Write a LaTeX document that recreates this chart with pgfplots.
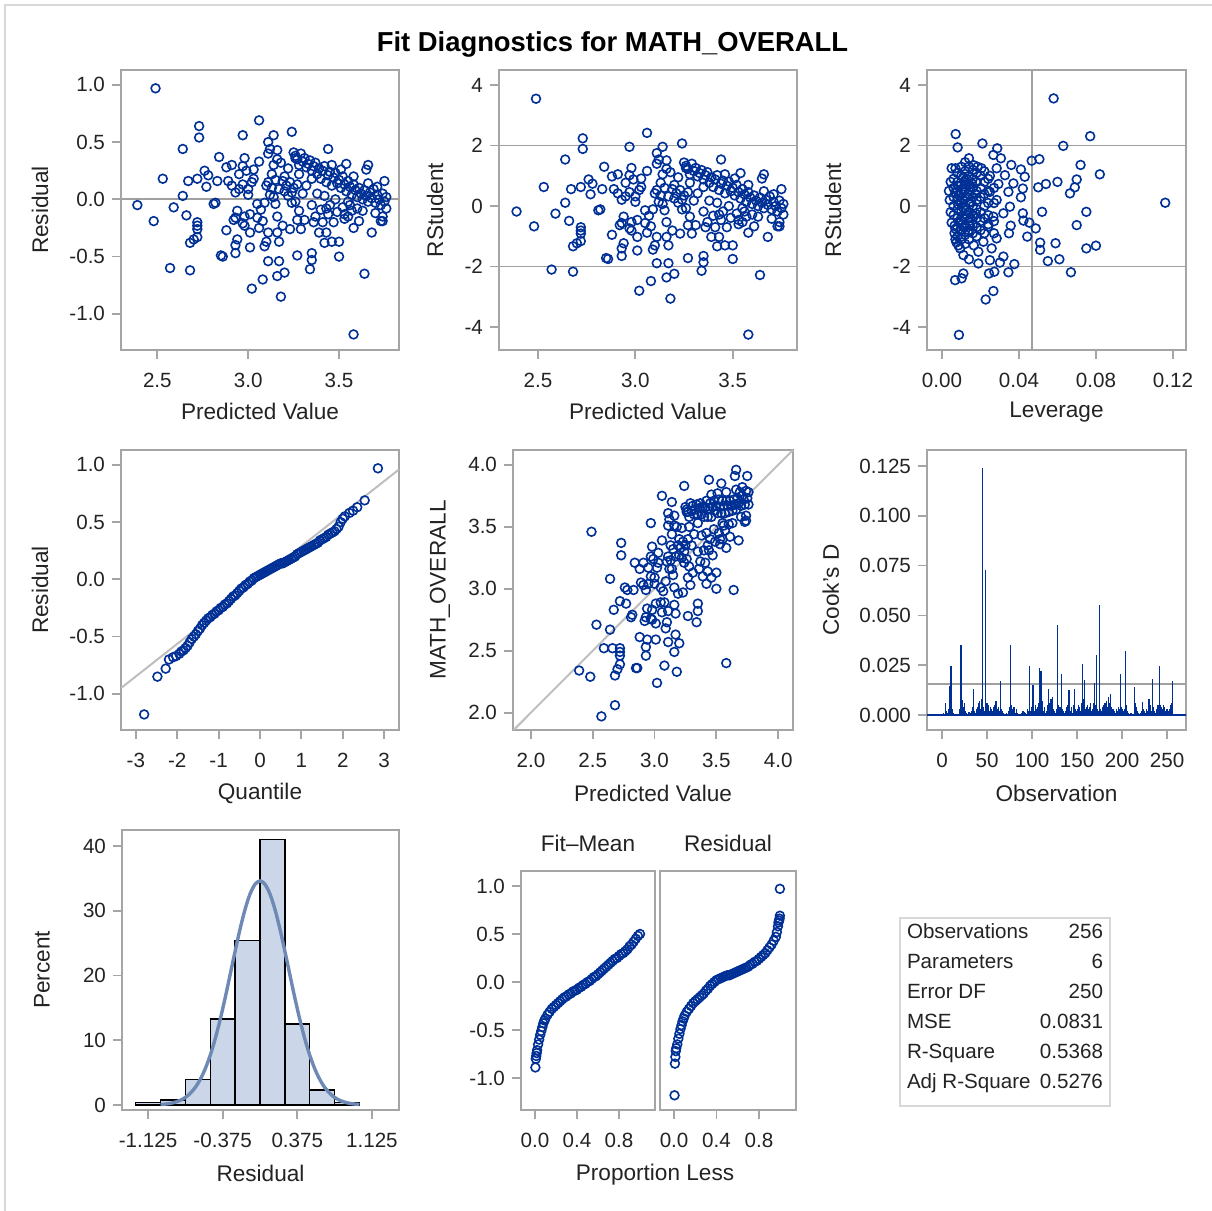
\documentclass[border=0pt]{standalone}
\usepackage{fontspec}
\setmainfont{Liberation Sans}
\usepackage{pgfplots}
\usepackage{pgfplotstable}
\pgfplotsset{compat=1.18}

\definecolor{sasblue}{RGB}{0,48,150}
\definecolor{framegray}{RGB}{165,165,165}
\definecolor{refline}{RGB}{160,160,160}
\definecolor{diagline}{RGB}{190,190,190}
\definecolor{histfill}{RGB}{203,214,232}
\definecolor{curveblue}{RGB}{110,138,180}
\definecolor{txt}{RGB}{35,35,35}
\definecolor{outer}{RGB}{215,215,215}

\pgfplotsset{
  panel/.style={
    scale only axis, anchor=south west,
    axis line style={framegray, line width=0.9pt},
    tick style={framegray, line width=0.9pt},
    major tick length=4.5pt,
    tick align=outside,
    xtick pos=bottom, ytick pos=left,
    ticklabel style={font=\fontsize{10.3}{12}\selectfont, text=txt},
    xticklabel style={yshift=-3.5pt},
    label style={font=\fontsize{11.3}{13}\selectfont, text=txt},
  },
  pts/.style={only marks, mark=o, mark size=2.2pt,
    mark options={draw=sasblue, line width=0.8pt}},
}

% predicted value, residual, rstudent, observed
\pgfplotstableread[row sep=\\]{
x r rst obs\\
2.49 0.97 3.55 3.46\\ 2.39 -0.05 -0.18 2.34\\ 2.48 -0.19 -0.67 2.29\\ 2.53 0.18 0.63 2.71\\
2.57 -0.60 -2.10 1.97\\ 2.68 -0.62 -2.17 2.06\\ 2.59 -0.07 -0.25 2.52\\ 2.64 0.44 1.54 3.08\\
2.64 0.03 0.11 2.67\\ 2.66 -0.14 -0.49 2.52\\ 2.67 0.16 0.56 2.83\\ 2.73 0.64 2.24 3.37\\
2.73 0.54 1.89 3.27\\ 2.72 0.18 0.63 2.90\\ 2.76 0.25 0.88 3.01\\ 2.77 0.11 0.39 2.88\\
2.78 0.21 0.74 2.99\\ 2.83 0.16 0.56 2.99\\ 2.72 -0.20 -0.70 2.52\\ 2.72 -0.23 -0.81 2.49\\
2.72 -0.26 -0.91 2.46\\ 2.68 -0.38 -1.33 2.30\\ 2.70 -0.35 -1.23 2.35\\ 2.72 -0.33 -1.16 2.39\\
2.81 -0.04 -0.14 2.77\\ 2.82 -0.03 -0.11 2.79\\ 2.84 0.37 1.30 3.21\\ 2.85 -0.49 -1.72 2.36\\
2.86 -0.50 -1.75 2.36\\ 2.88 -0.27 -0.95 2.61\\ 2.88 0.28 0.98 3.16\\ 2.91 0.30 1.05 3.21\\
2.89 0.16 0.56 3.05\\ 2.91 0.12 0.42 3.03\\ 2.93 -0.47 -1.65 2.46\\ 2.93 -0.16 -0.56 2.77\\
2.92 -0.18 -0.63 2.74\\ 2.94 -0.10 -0.35 2.84\\ 2.94 -0.35 -1.23 2.59\\ 2.93 -0.40 -1.40 2.53\\
2.95 0.22 0.77 3.17\\ 2.95 0.09 0.32 3.04\\ 2.97 0.56 1.96 3.53\\ 2.98 0.36 1.26 3.34\\
2.97 0.29 1.02 3.26\\ 2.99 0.25 0.88 3.24\\ 3.03 0.26 0.91 3.29\\ 2.97 0.13 0.46 3.10\\
3.00 0.09 0.32 3.09\\ 3.02 0.15 0.53 3.17\\ 3.00 0.04 0.14 3.04\\ 2.98 -0.15 -0.53 2.83\\
3.01 -0.13 -0.46 2.88\\ 2.97 -0.21 -0.74 2.76\\ 2.98 -0.23 -0.81 2.75\\ 3.01 -0.29 -1.02 2.72\\
3.01 -0.42 -1.47 2.59\\ 3.02 -0.78 -2.80 2.24\\ 3.08 -0.70 -2.48 2.38\\ 3.06 0.69 2.42 3.75\\
3.05 -0.04 -0.14 3.01\\ 3.05 -0.16 -0.56 2.89\\ 3.07 -0.09 -0.32 2.98\\ 3.08 -0.19 -0.67 2.89\\
3.06 -0.25 -0.88 2.81\\ 3.09 -0.03 -0.11 3.06\\ 3.09 -0.41 -1.44 2.68\\ 3.10 -0.37 -1.30 2.73\\
3.11 -0.54 -1.89 2.57\\ 3.17 -0.54 -1.89 2.63\\ 3.10 0.12 0.42 3.22\\ 3.11 0.15 0.53 3.26\\
3.12 0.04 0.14 3.16\\ 3.11 0.40 1.40 3.51\\ 3.12 0.44 1.54 3.56\\ 3.11 0.50 1.75 3.61\\
3.14 0.56 1.96 3.70\\ 3.16 0.43 1.51 3.59\\ 3.16 0.35 1.23 3.51\\ 3.14 0.30 1.05 3.44\\
3.13 0.22 0.77 3.35\\ 3.15 -0.04 -0.14 3.11\\ 3.14 0.02 0.07 3.16\\ 3.16 -0.29 -1.02 2.87\\
3.17 -0.37 -1.30 2.80\\ 3.16 -0.67 -2.36 2.49\\ 3.18 -0.85 -3.06 2.33\\ 3.20 -0.64 -2.24 2.56\\
3.11 -0.29 -1.02 2.82\\ 3.19 -0.23 -0.81 2.96\\ 3.24 0.59 2.07 3.83\\ 3.18 0.32 1.12 3.50\\
3.20 0.20 0.70 3.40\\ 3.21 0.12 0.42 3.33\\ 3.19 0.16 0.56 3.35\\ 3.23 0.15 0.53 3.38\\
3.24 0.06 0.21 3.30\\ 3.17 0.09 0.32 3.26\\ 3.22 0.03 0.11 3.25\\ 3.25 0.10 0.35 3.35\\
3.27 0.13 0.46 3.40\\ 3.15 0.17 0.60 3.32\\ 3.26 0.36 1.26 3.62\\ 3.27 -0.49 -1.72 2.78\\
3.28 -0.10 -0.35 3.18\\ 3.27 -0.18 -0.63 3.09\\ 3.29 -0.26 -0.91 3.03\\ 3.24 -0.03 -0.11 3.21\\
3.34 -0.61 -2.14 2.73\\ 3.35 -0.53 -1.86 2.82\\ 3.35 -0.47 -1.65 2.88\\ 3.37 -0.15 -0.53 3.22\\
3.39 -0.29 -1.02 3.10\\ 3.42 -0.38 -1.33 3.04\\ 3.43 -0.29 -1.02 3.14\\ 3.46 -0.37 -1.30 3.09\\
3.44 0.44 1.54 3.88\\ 3.50 -0.37 -1.30 3.13\\ 3.50 -0.50 -1.75 3.00\\ 3.53 -0.13 -0.46 3.40\\
3.55 -0.15 -0.53 3.40\\ 3.58 -0.25 -0.88 3.33\\ 3.61 -0.19 -0.67 3.42\\ 3.68 -0.29 -1.02 3.39\\
3.64 -0.65 -2.28 2.99\\ 3.58 -1.18 -4.25 2.40\\ 3.66 0.30 1.05 3.96\\ 3.65 0.26 0.91 3.91\\
3.75 0.16 0.56 3.91\\ 3.74 -0.19 -0.67 3.55\\ 3.74 -0.15 -0.53 3.59\\ 3.25 0.41 1.44 3.66\\
3.26 0.38 1.33 3.64\\ 3.27 0.35 1.23 3.62\\ 3.28 0.30 1.05 3.58\\ 3.29 0.40 1.40 3.69\\
3.30 0.33 1.16 3.63\\ 3.31 0.36 1.26 3.67\\ 3.32 0.28 0.98 3.60\\ 3.33 0.31 1.09 3.64\\
3.34 0.34 1.19 3.68\\ 3.35 0.25 0.88 3.60\\ 3.36 0.29 1.02 3.65\\ 3.37 0.32 1.12 3.69\\
3.38 0.22 0.77 3.60\\ 3.39 0.27 0.95 3.66\\ 3.40 0.18 0.63 3.58\\ 3.41 0.25 0.88 3.66\\
3.42 0.29 1.02 3.71\\ 3.43 0.15 0.53 3.58\\ 3.44 0.21 0.74 3.65\\ 3.45 0.24 0.84 3.69\\
3.46 0.12 0.42 3.58\\ 3.47 0.19 0.67 3.66\\ 3.48 0.23 0.81 3.71\\ 3.49 0.14 0.49 3.63\\
3.50 0.17 0.60 3.67\\ 3.51 0.10 0.35 3.61\\ 3.52 0.20 0.70 3.72\\ 3.53 0.13 0.46 3.66\\
3.54 0.07 0.25 3.61\\ 3.55 0.16 0.56 3.71\\ 3.56 0.11 0.39 3.67\\ 3.57 0.04 0.14 3.61\\
3.58 0.13 0.46 3.71\\ 3.59 0.08 0.28 3.67\\ 3.60 0.02 0.07 3.62\\ 3.61 0.10 0.35 3.71\\
3.62 0.05 0.18 3.67\\ 3.63 0.00 0.00 3.63\\ 3.64 0.08 0.28 3.72\\ 3.65 0.03 0.11 3.68\\
3.66 -0.02 -0.07 3.64\\ 3.67 0.06 0.21 3.73\\ 3.68 0.01 0.04 3.69\\ 3.69 0.09 0.32 3.78\\
3.70 -0.03 -0.11 3.67\\ 3.71 0.04 0.14 3.75\\ 3.72 0.00 0.00 3.72\\ 3.73 -0.05 -0.18 3.68\\
3.74 0.05 0.18 3.79\\ 3.75 -0.02 -0.07 3.73\\ 3.76 0.02 0.07 3.78\\ 3.76 -0.08 -0.28 3.68\\
3.30 0.05 0.18 3.35\\ 3.32 0.12 0.42 3.44\\ 3.35 -0.05 -0.18 3.30\\ 3.38 0.05 0.18 3.43\\
3.40 -0.09 -0.32 3.31\\ 3.42 0.03 0.11 3.45\\ 3.45 -0.05 -0.18 3.40\\ 3.48 0.00 0.00 3.48\\
3.47 -0.20 -0.70 3.27\\ 3.52 -0.07 -0.25 3.45\\ 3.55 -0.02 -0.07 3.53\\ 3.60 -0.08 -0.28 3.52\\
3.63 -0.10 -0.35 3.53\\ 3.70 -0.12 -0.42 3.58\\ 3.73 -0.19 -0.67 3.54\\ 3.35 0.18 0.63 3.53\\
3.28 0.22 0.77 3.50\\ 3.22 0.27 0.95 3.49\\ 3.20 0.07 0.25 3.27\\ 3.13 0.10 0.35 3.23\\
3.26 -0.02 -0.07 3.24\\ 3.31 -0.18 -0.63 3.13\\ 3.36 -0.20 -0.70 3.16\\ 3.41 -0.20 -0.70 3.21\\
3.44 -0.13 -0.46 3.31\\ 3.58 0.20 0.70 3.78\\ 3.51 0.26 0.91 3.77\\ 3.46 0.30 1.05 3.76\\
3.66 0.14 0.49 3.80\\ 3.71 0.11 0.39 3.82\\ 3.56 -0.05 -0.18 3.51\\ 3.23 -0.26 -0.91 2.97\\
3.03 0.18 0.63 3.21\\ 2.93 0.06 0.21 2.99\\ 3.06 0.33 1.16 3.39\\ 3.16 -0.15 -0.53 3.01\\
3.43 -0.08 -0.28 3.35\\ 3.49 -0.11 -0.39 3.38\\ 3.53 -0.17 -0.60 3.36\\ 3.57 -0.10 -0.35 3.47\\
3.54 0.31 1.09 3.85\\
}\fitdata

% leverage, rstudent
\pgfplotstableread[row sep=\\]{
lev rst\\
0.058 3.56\\ 0.077 2.31\\ 0.063 1.99\\ 0.082 1.05\\ 0.072 1.36\\ 0.070 0.88\\ 0.069 0.62\\
0.0665 0.42\\ 0.060 0.80\\ 0.054 0.73\\ 0.050 0.62\\ 0.0506 1.55\\ 0.0466 1.50\\ 0.116 0.11\\
0.075 -0.19\\ 0.070 -0.63\\ 0.052 -0.19\\ 0.051 -1.21\\ 0.051 -1.45\\ 0.059 -1.23\\ 0.080 -1.31\\
0.075 -1.40\\ 0.055 -1.82\\ 0.061 -1.76\\ 0.067 -2.19\\ 0.0487 -0.74\\ 0.0443 -1.01\\ 0.0454 -0.55\\
0.0423 -0.48\\ 0.042 -0.24\\ 0.041 0.29\\ 0.042 0.58\\ 0.043 0.97\\ 0.041 1.21\\ 0.036 1.36\\
0.0376 -1.92\\ 0.0345 -2.19\\ 0.0267 -2.81\\ 0.0227 -3.09\\ 0.0244 -2.23\\ 0.0272 -2.17\\ 0.0088 -4.26\\
0.0071 2.38\\ 0.0081 1.94\\ 0.021 2.07\\ 0.0287 1.91\\ 0.0267 1.69\\ 0.0306 1.58\\ 0.014 1.58\\
0.0068 -2.45\\ 0.0102 -2.39\\ 0.0111 -2.23\\ 0.0189 -1.90\\ 0.014 -1.76\\ 0.0301 -1.87\\ 0.0319 -1.67\\
0.0348 -0.90\\ 0.0357 -0.65\\ 0.0319 -0.24\\ 0.0353 -0.02\\ 0.0345 0.47\\ 0.0371 0.75\\ 0.0327 1.02\\
0.0284 1.25\\ 0.0249 1.00\\ 0.0293 0.73\\ 0.0249 0.47\\ 0.0284 0.20\\ 0.0267 -0.35\\ 0.024 -0.68\\
0.0284 -1.07\\ 0.0258 -1.40\\ 0.0215 -1.18\\ 0.0189 -1.51\\ 0.0094 -1.40\\ 0.0111 -1.62\\ 0.0249 -1.79\\
0.0036 0.50\\ 0.0040 0.20\\ 0.0045 -0.20\\ 0.0050 1.25\\ 0.0045 0.80\\ 0.0050 -0.55\\
0.0060 0.90\\ 0.0060 0.60\\ 0.0060 0.30\\ 0.0060 0.00\\ 0.0060 -0.30\\ 0.0065 -0.65\\ 0.0065 -0.90\\
0.0070 1.25\\ 0.0070 -0.75\\ 0.0080 1.10\\ 0.0080 0.80\\ 0.0080 0.50\\ 0.0080 0.20\\ 0.0080 -0.10\\
0.0080 -0.40\\ 0.0080 -0.70\\ 0.0080 -1.00\\ 0.0085 -1.30\\ 0.0085 0.65\\ 0.0085 0.05\\
0.0100 1.30\\ 0.0100 1.00\\ 0.0100 0.70\\ 0.0100 0.40\\ 0.0100 0.10\\ 0.0100 -0.20\\ 0.0100 -0.50\\
0.0100 -0.80\\ 0.0100 -1.10\\ 0.0105 0.25\\ 0.0105 -0.35\\ 0.0120 1.45\\ 0.0120 1.15\\ 0.0120 0.85\\
0.0120 0.55\\ 0.0120 0.25\\ 0.0120 -0.05\\ 0.0120 -0.35\\ 0.0120 -0.65\\ 0.0120 -0.95\\ 0.0120 -1.25\\
0.0125 0.70\\ 0.0125 -0.15\\ 0.0140 1.30\\ 0.0140 1.00\\ 0.0140 0.70\\ 0.0140 0.40\\ 0.0140 0.10\\
0.0140 -0.20\\ 0.0140 -0.50\\ 0.0140 -0.80\\ 0.0140 -1.10\\ 0.0145 0.55\\ 0.0145 -0.65\\
0.0160 1.20\\ 0.0160 0.90\\ 0.0160 0.60\\ 0.0160 0.30\\ 0.0160 0.00\\ 0.0160 -0.30\\ 0.0160 -0.60\\
0.0160 -0.90\\ 0.0165 1.35\\ 0.0165 -1.30\\ 0.0180 1.10\\ 0.0180 0.80\\ 0.0180 0.50\\ 0.0180 0.20\\
0.0180 -0.10\\ 0.0180 -0.40\\ 0.0180 -0.70\\ 0.0180 -1.00\\ 0.0185 1.30\\ 0.0200 1.00\\ 0.0200 0.60\\
0.0200 0.30\\ 0.0200 -0.20\\ 0.0200 -0.50\\ 0.0200 -0.80\\ 0.0205 1.25\\ 0.0220 1.15\\ 0.0220 0.80\\
0.0220 0.40\\ 0.0220 0.00\\ 0.0220 -0.40\\ 0.0220 -0.90\\ 0.0240 0.90\\ 0.0240 0.50\\ 0.0240 0.10\\
0.0240 -0.30\\ 0.0240 -0.60\\ 0.0270 0.60\\ 0.0270 0.10\\ 0.0270 -0.50\\ 0.0270 -0.90\\
0.0090 0.35\\ 0.0110 0.55\\ 0.0130 0.30\\ 0.0150 0.15\\ 0.0110 -0.05\\ 0.0130 -0.30\\ 0.0090 -0.55\\
0.0150 -0.40\\ 0.0110 0.95\\ 0.0130 0.90\\ 0.0070 0.45\\ 0.0095 -0.80\\ 0.0135 -0.85\\ 0.0155 0.75\\
0.0175 0.40\\ 0.0175 -0.25\\ 0.0095 0.15\\ 0.0115 -0.70\\ 0.0070 -1.10\\ 0.0075 -1.20\\
}\levdata

\begin{document}
\begin{tikzpicture}
\useasboundingbox (0,0) rectangle (606pt,605.5pt);
\draw[outer, line width=1pt] (2.5pt,0) -- (2.5pt,603pt) -- (606pt,603pt);
\node[font=\bfseries\fontsize{13.7}{16}\selectfont, anchor=base] at (306.25pt,579.5pt)
  {Fit Diagnostics for MATH\_OVERALL};

% row 1: residual vs predicted
\begin{axis}[panel, at={(60.5pt,430.5pt)}, width=139pt, height=140pt,
  xmin=2.30, xmax=3.83, ymin=-1.316, ymax=1.13,
  xtick={2.5,3.0,3.5}, xticklabels={2.5,3.0,3.5},
  ytick={-1,-0.5,0,0.5,1}, yticklabels={-1.0,-0.5,0.0,0.5,1.0},
  xlabel={Predicted Value}, ylabel={Residual},
  xlabel style={at={(axis description cs:0.5,-0.221)},anchor=center},
  ylabel style={at={(axis description cs:-0.291,0.5)},anchor=center}]
\addplot[refline, line width=0.9pt] coordinates {(2.30,0) (3.83,0)};
\addplot[pts] table[x=x,y=r]{\fitdata};
\end{axis}

% rstudent vs predicted
\begin{axis}[panel, at={(249.5pt,430.5pt)}, width=149pt, height=140pt,
  xmin=2.30, xmax=3.83, ymin=-4.76, ymax=4.50,
  xtick={2.5,3.0,3.5}, xticklabels={2.5,3.0,3.5},
  ytick={-4,-2,0,2,4}, yticklabels={-4,-2,0,2,4},
  xlabel={Predicted Value}, ylabel={RStudent},
  xlabel style={at={(axis description cs:0.5,-0.221)},anchor=center},
  ylabel style={at={(axis description cs:-0.215,0.5)},anchor=center}]
\addplot[refline, line width=0.9pt] coordinates {(2.30,2) (3.83,2)};
\addplot[refline, line width=0.9pt] coordinates {(2.30,-2) (3.83,-2)};
\addplot[pts] table[x=x,y=rst]{\fitdata};
\end{axis}

% rstudent vs leverage
\begin{axis}[panel, at={(463.5pt,430.5pt)}, width=129.5pt, height=140pt,
  xmin=-0.0078, xmax=0.1268, ymin=-4.76, ymax=4.50,
  xtick={0,0.04,0.08,0.12}, xticklabels={0.00,0.04,0.08,0.12},
  ytick={-4,-2,0,2,4}, yticklabels={-4,-2,0,2,4},
  xlabel={Leverage}, ylabel={RStudent},
  xlabel style={at={(axis description cs:0.5,-0.221)},anchor=center},
  ylabel style={at={(axis description cs:-0.363,0.5)},anchor=center}]
\addplot[refline, line width=0.9pt] coordinates {(-0.0078,2) (0.1268,2)};
\addplot[refline, line width=0.9pt] coordinates {(-0.0078,-2) (0.1268,-2)};
\addplot[refline, line width=0.9pt] coordinates {(0.0469,-4.76) (0.0469,4.50)};
\addplot[pts] table[x=lev,y=rst]{\levdata};
\end{axis}

% row 2: Q-Q plot
\begin{axis}[panel, at={(60.5pt,240.5pt)}, width=139pt, height=140pt,
  xmin=-3.36, xmax=3.36, ymin=-1.316, ymax=1.13,
  xtick={-3,-2,-1,0,1,2,3}, xticklabels={-3,-2,-1,0,1,2,3},
  ytick={-1,-0.5,0,0.5,1}, yticklabels={-1.0,-0.5,0.0,0.5,1.0},
  xlabel={Quantile}, ylabel={Residual},
  xlabel style={at={(axis description cs:0.5,-0.225)},anchor=center},
  ylabel style={at={(axis description cs:-0.291,0.5)},anchor=center}]
\addplot[diagline, line width=1pt] coordinates {(-3.36,-0.95) (3.36,0.96)};
\addplot[pts] coordinates {
(-2.80,-1.18) (-2.48,-0.85) (-2.28,-0.78) (-2.20,-0.70) (-2.10,-0.68) (-2.03,-0.67)
(-1.95,-0.65) (-1.90,-0.63) (-1.85,-0.62) (-1.80,-0.60) (-1.75,-0.58) (-1.70,-0.55)
(-1.65,-0.52) (-1.60,-0.50) (-1.55,-0.48) (-1.50,-0.45) (-1.45,-0.43) (-1.40,-0.40)
(-1.35,-0.38) (-1.30,-0.36) (-1.25,-0.34) (-1.20,-0.33) (-1.15,-0.31) (-1.10,-0.30)
(-1.05,-0.28) (-1.00,-0.27) (-0.95,-0.25) (-0.90,-0.24) (-0.85,-0.22) (-0.80,-0.21)
(-0.75,-0.19) (-0.70,-0.17) (-0.65,-0.15) (-0.60,-0.14) (-0.55,-0.12) (-0.50,-0.10)
(-0.45,-0.08) (-0.40,-0.07) (-0.35,-0.05) (-0.30,-0.04) (-0.25,-0.02) (-0.20,-0.01)
(-0.15,0.01) (-0.10,0.02) (-0.05,0.03) (0.00,0.04) (0.05,0.05) (0.10,0.06) (0.15,0.07)
(0.20,0.08) (0.25,0.09) (0.30,0.10) (0.35,0.11) (0.40,0.12) (0.45,0.13) (0.50,0.14)
(0.55,0.14) (0.60,0.15) (0.65,0.16) (0.70,0.17) (0.75,0.18) (0.80,0.19) (0.85,0.20)
(0.90,0.22) (0.95,0.23) (1.00,0.24) (1.05,0.25) (1.10,0.26) (1.15,0.27) (1.20,0.28)
(1.25,0.29) (1.30,0.30) (1.35,0.31) (1.40,0.32) (1.45,0.34) (1.50,0.35) (1.55,0.36)
(1.60,0.37) (1.65,0.39) (1.70,0.40) (1.75,0.41) (1.80,0.42) (1.85,0.44) (1.90,0.46)
(1.95,0.50) (2.00,0.53) (2.05,0.55) (2.16,0.58) (2.25,0.60) (2.35,0.63) (2.53,0.69)
(2.85,0.97)};
\end{axis}

% observed vs predicted
\begin{axis}[panel, at={(256.5pt,240.5pt)}, width=140pt, height=140pt,
  xmin=1.855, xmax=4.12, ymin=1.86, ymax=4.12,
  xtick={2,2.5,3,3.5,4}, xticklabels={2.0,2.5,3.0,3.5,4.0},
  ytick={2,2.5,3,3.5,4}, yticklabels={2.0,2.5,3.0,3.5,4.0},
  xlabel={Predicted Value}, ylabel={MATH\_OVERALL},
  xlabel style={at={(axis description cs:0.5,-0.225)},anchor=center},
  ylabel style={at={(axis description cs:-0.261,0.5)},anchor=center}]
\addplot[diagline, line width=1pt] coordinates {(1.855,1.855) (4.12,4.12)};
\addplot[pts] table[x=x,y=obs]{\fitdata};
\end{axis}

% Cook's D
\begin{axis}[panel, at={(463.5pt,240.5pt)}, width=129.5pt, height=140pt,
  xmin=-16.7, xmax=271, ymin=-0.0075, ymax=0.133,
  xtick={0,50,100,150,200,250}, xticklabels={0,50,100,150,200,250},
  ytick={0,0.025,0.05,0.075,0.1,0.125},
  yticklabels={0.000,0.025,0.050,0.075,0.100,0.125},
  xlabel={Observation}, ylabel={Cook's D},
  xlabel style={at={(axis description cs:0.5,-0.225)},anchor=center},
  ylabel style={at={(axis description cs:-0.371,0.5)},anchor=center}]
\addplot[refline, line width=0.9pt] coordinates {(-16.7,0.0156) (271,0.0156)};
\addplot[ycomb, sasblue, line width=0.6pt] coordinates {
(1,0.0005) (2,0.001) (3,0.0003) (4,0.0058) (5,0.002) (6,0.001) (7,0.003) (8,0.0145)
(9,0.004) (10,0.0245) (11,0.003) (12,0.002) (13,0.0008) (14,0.0004) (16,0.0006)
(18,0.0005) (19,0.001) (20,0.003) (21,0.035) (22,0.006) (23,0.0075) (24,0.004)
(25,0.006) (26,0.002) (27,0.001) (29,0.0005) (30,0.0015) (31,0.001) (33,0.002)
(34,0.004) (35,0.0133) (36,0.002) (37,0.001) (38,0.003) (39,0.0025) (40,0.004)
(41,0.006) (42,0.007) (43,0.003) (44,0.008) (45,0.1238) (46,0.004) (47,0.002)
(48,0.0728) (49,0.005) (50,0.006) (51,0.003) (52,0.005) (53,0.002) (54,0.004)
(55,0.003) (56,0.002) (57,0.004) (58,0.005) (59,0.006) (60,0.007) (61,0.003)
(62,0.002) (63,0.004) (64,0.002) (65,0.0172) (66,0.003) (67,0.002) (68,0.001)
(70,0.0005) (72,0.001) (74,0.002) (75,0.004) (76,0.035) (77,0.005) (78,0.003)
(79,0.002) (80,0.004) (81,0.001) (83,0.003) (84,0.001) (86,0.0005) (88,0.001)
(90,0.002) (91,0.0015) (93,0.001) (95,0.003) (96,0.002) (97,0.0245) (98,0.002)
(99,0.004) (100,0.003) (101,0.015) (102,0.004) (103,0.002) (104,0.005) (105,0.003)
(106,0.004) (107,0.006) (108,0.0237) (109,0.008) (110,0.022) (111,0.007) (112,0.003)
(113,0.002) (114,0.004) (115,0.001) (116,0.002) (117,0.005) (118,0.0133) (119,0.006)
(120,0.003) (121,0.008) (122,0.004) (123,0.009) (124,0.003) (125,0.002) (126,0.001)
(127,0.003) (128,0.0453) (129,0.005) (130,0.003) (131,0.004) (132,0.002) (133,0.0208)
(134,0.003) (135,0.002) (136,0.001) (137,0.002) (138,0.004) (139,0.003) (140,0.005)
(141,0.0125) (142,0.003) (143,0.002) (144,0.004) (145,0.001) (146,0.005) (147,0.0133)
(148,0.003) (149,0.002) (150,0.001) (151,0.003) (152,0.005) (153,0.004) (154,0.002)
(155,0.006) (156,0.0255) (157,0.008) (158,0.0175) (159,0.003) (160,0.002) (161,0.004)
(162,0.005) (163,0.003) (164,0.004) (165,0.006) (166,0.002) (167,0.003) (168,0.006)
(169,0.0162) (170,0.004) (171,0.005) (172,0.0303) (173,0.003) (174,0.002) (175,0.055)
(176,0.003) (177,0.002) (178,0.004) (179,0.005) (180,0.003) (181,0.006) (182,0.005)
(183,0.007) (184,0.004) (185,0.009) (186,0.006) (187,0.0105) (188,0.004) (189,0.002)
(190,0.003) (191,0.001) (192,0.002) (193,0.001) (194,0.003) (195,0.002) (196,0.004)
(197,0.003) (198,0.0208) (199,0.004) (200,0.003) (201,0.001) (202,0.002) (203,0.003)
(204,0.0322) (205,0.005) (206,0.002) (207,0.001) (208,0.0005) (210,0.0008) (212,0.0004)
(214,0.0142) (215,0.006) (216,0.004) (217,0.002) (218,0.001) (219,0.0005) (221,0.001)
(222,0.002) (223,0.0067) (224,0.003) (225,0.002) (226,0.001) (227,0.003) (228,0.002)
(229,0.004) (230,0.0083) (231,0.005) (232,0.003) (233,0.002) (234,0.018) (235,0.004)
(236,0.002) (237,0.001) (238,0.003) (239,0.002) (240,0.005) (241,0.004) (242,0.0245)
(243,0.005) (244,0.004) (245,0.003) (246,0.005) (247,0.004) (248,0.002) (249,0.001)
(250,0.003) (251,0.002) (252,0.001) (253,0.003) (254,0.005) (255,0.006) (256,0.0172)};
\addplot[sasblue, line width=0.9pt] coordinates {(-16.7,0) (271,0)};
\end{axis}

% row 3: histogram of residuals
\begin{axis}[panel, at={(61pt,50.5pt)}, width=138.5pt, height=140pt,
  xmin=-1.387, xmax=1.397, ymin=-0.77, ymax=42.5,
  xtick={-1.125,-0.375,0.375,1.125}, xticklabels={-1.125,-0.375,0.375,1.125},
  ytick={0,10,20,30,40}, yticklabels={0,10,20,30,40},
  xlabel={Residual}, ylabel={Percent},
  xlabel style={at={(axis description cs:0.5,-0.225)},anchor=center},
  ylabel style={at={(axis description cs:-0.289,0.5)},anchor=center}]
\addplot[ybar interval, fill=histfill, draw=black, line width=0.7pt] coordinates {
(-1.25,0.39) (-1.0,0.78) (-0.75,3.91) (-0.5,13.28) (-0.25,25.39) (0,41.02)
(0.25,12.5) (0.5,2.34) (0.75,0.39) (1.0,0.39)};
\addplot[curveblue, line width=1.7pt, smooth] coordinates {
(-1.0,0.08) (-0.95,0.15) (-0.9,0.26) (-0.85,0.45) (-0.8,0.74) (-0.75,1.17) (-0.7,1.82)
(-0.65,2.73) (-0.6,3.97) (-0.55,5.61) (-0.5,7.70) (-0.45,10.24) (-0.4,13.23) (-0.35,16.57)
(-0.3,20.15) (-0.25,23.78) (-0.2,27.22) (-0.15,30.25) (-0.1,32.61) (-0.05,34.11) (0,34.63)
(0.05,34.11) (0.1,32.61) (0.15,30.25) (0.2,27.22) (0.25,23.78) (0.3,20.15) (0.35,16.57)
(0.4,13.23) (0.45,10.24) (0.5,7.70) (0.55,5.61) (0.6,3.97) (0.65,2.73) (0.7,1.82)
(0.75,1.17) (0.8,0.74) (0.85,0.45) (0.9,0.26) (0.95,0.15) (1.0,0.08)};
\end{axis}

% residual-fit spread plot
\begin{axis}[panel, at={(260.5pt,50.5pt)}, width=67pt, height=119.5pt,
  xmin=-0.133, xmax=1.143, ymin=-1.333, ymax=1.156,
  xtick={0,0.4,0.8}, xticklabels={0.0,0.4,0.8},
  ytick={-1,-0.5,0,0.5,1}, yticklabels={-1.0,-0.5,0.0,0.5,1.0},
  title={Fit–Mean}, xlabel={Proportion Less},
  title style={at={(axis description cs:0.5,1.067)},anchor=center,
    font=\fontsize{11.3}{13}\selectfont, text=txt},
  xlabel style={at={(axis description cs:1.0,-0.27)},anchor=center}]
\addplot[pts] coordinates {
(0.004,-0.89) (0.008,-0.80) (0.012,-0.77) (0.016,-0.74) (0.02,-0.71) (0.03,-0.65)
(0.04,-0.60) (0.05,-0.55) (0.06,-0.51) (0.07,-0.47) (0.08,-0.43) (0.09,-0.40)
(0.10,-0.38) (0.12,-0.34) (0.14,-0.31) (0.16,-0.28) (0.18,-0.26) (0.20,-0.24)
(0.22,-0.22) (0.24,-0.20) (0.26,-0.18) (0.28,-0.16) (0.30,-0.15) (0.32,-0.13)
(0.34,-0.12) (0.36,-0.10) (0.38,-0.09) (0.40,-0.08) (0.42,-0.06) (0.44,-0.05)
(0.46,-0.03) (0.48,-0.02) (0.50,0.00) (0.52,0.01) (0.54,0.03) (0.56,0.05) (0.58,0.06)
(0.60,0.08) (0.62,0.10) (0.64,0.12) (0.66,0.14) (0.68,0.16) (0.70,0.18) (0.72,0.20)
(0.74,0.22) (0.76,0.24) (0.78,0.25) (0.80,0.27) (0.82,0.29) (0.84,0.30) (0.86,0.32)
(0.88,0.34) (0.90,0.37) (0.92,0.39) (0.94,0.42) (0.96,0.45) (0.98,0.48) (1.00,0.50)};
\end{axis}
\begin{axis}[panel, at={(330pt,50.5pt)}, width=68pt, height=119.5pt,
  xmin=-0.133, xmax=1.15, ymin=-1.333, ymax=1.156,
  xtick={0,0.4,0.8}, xticklabels={0.0,0.4,0.8}, ytick=\empty,
  title={Residual},
  title style={at={(axis description cs:0.5,1.067)},anchor=center,
    font=\fontsize{11.3}{13}\selectfont, text=txt}]
\addplot[pts] coordinates {
(0.004,-1.18) (0.008,-0.85) (0.012,-0.78) (0.016,-0.72) (0.02,-0.69) (0.03,-0.65)
(0.04,-0.59) (0.05,-0.54) (0.06,-0.49) (0.07,-0.45) (0.08,-0.41) (0.09,-0.38)
(0.10,-0.35) (0.12,-0.31) (0.14,-0.28) (0.16,-0.25) (0.18,-0.22) (0.20,-0.20)
(0.22,-0.18) (0.24,-0.16) (0.26,-0.14) (0.28,-0.12) (0.30,-0.09) (0.32,-0.07)
(0.34,-0.04) (0.36,-0.02) (0.38,0.00) (0.40,0.02) (0.42,0.03) (0.44,0.04) (0.46,0.05)
(0.48,0.06) (0.50,0.07) (0.52,0.07) (0.54,0.08) (0.56,0.09) (0.58,0.10) (0.60,0.11)
(0.62,0.12) (0.64,0.13) (0.66,0.14) (0.68,0.15) (0.70,0.16) (0.72,0.18) (0.74,0.19)
(0.76,0.21) (0.78,0.22) (0.80,0.24) (0.82,0.26) (0.84,0.28) (0.86,0.30) (0.88,0.33)
(0.90,0.36) (0.92,0.39) (0.94,0.43) (0.96,0.47) (0.97,0.52) (0.98,0.58) (0.985,0.62)
(0.99,0.64) (0.995,0.66) (0.998,0.69) (0.998,0.97)};
\end{axis}

% fit statistics
\draw[outer, line width=0.8pt] (450pt,52.5pt) rectangle (555pt,146.5pt);
\node[anchor=center, inner sep=0pt, text=txt, font=\fontsize{10.3}{15}\selectfont]
  at (502.5pt,101.5pt) {%
  \begin{tabular*}{98pt}{@{}l@{\extracolsep{\fill}}r@{}}
  Observations & 256\\ Parameters & 6\\ Error DF & 250\\
  MSE & 0.0831\\ R-Square & 0.5368\\ Adj R-Square & 0.5276
  \end{tabular*}};
\end{tikzpicture}
\end{document}
